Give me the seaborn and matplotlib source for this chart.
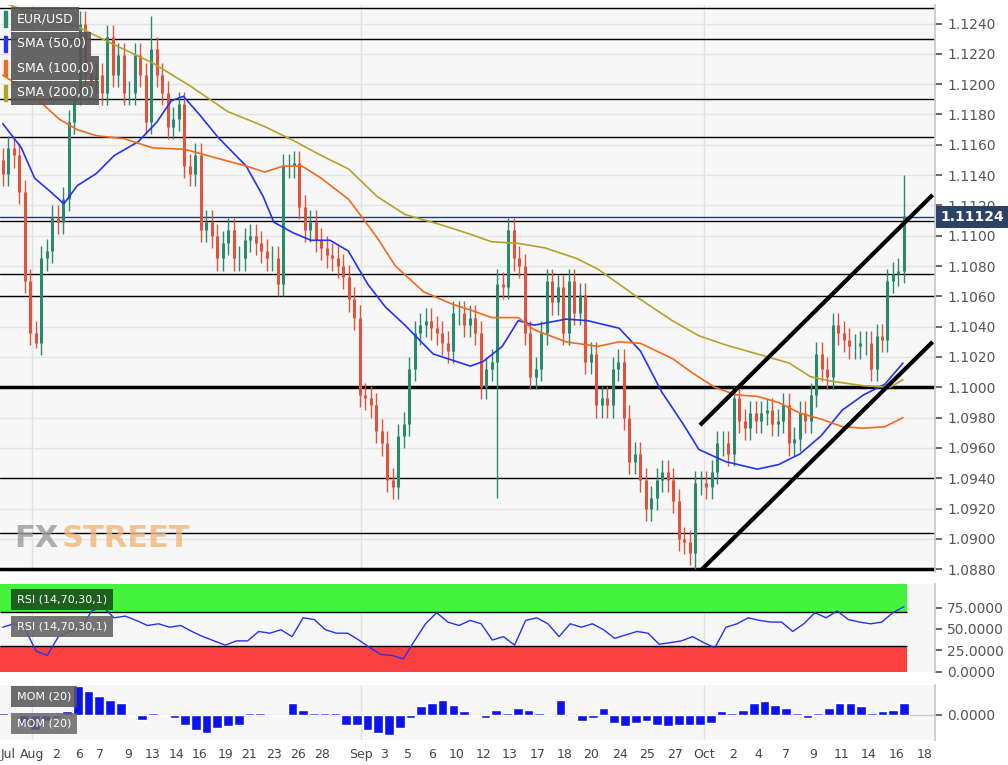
import numpy as np
import pandas as pd
import matplotlib
matplotlib.use("Agg")
import matplotlib.pyplot as plt
import seaborn as sns

# hourly-ish closes
closes = [1.1141, 1.1158, 1.1153, 1.1129, 1.1070, 1.1036, 1.1029, 1.1085, 1.1090, 1.1112,
          1.1109, 1.1124, 1.1175, 1.1194, 1.1240, 1.1206, 1.1202, 1.1206, 1.1194, 1.1231,
          1.1206, 1.1219, 1.1194, 1.1194, 1.1219, 1.1206, 1.1175, 1.1223, 1.1206, 1.1194,
          1.1172, 1.1177, 1.1187, 1.1146, 1.1141, 1.1153, 1.1104, 1.1109, 1.1100, 1.1085,
          1.1095, 1.1104, 1.1085, 1.1085, 1.1097, 1.1100, 1.1095, 1.1090, 1.1085, 1.1085,
          1.1068, 1.1146, 1.1146, 1.1148, 1.1119, 1.1104, 1.1109, 1.1097, 1.1092, 1.1087,
          1.1085, 1.1080, 1.1073, 1.1058, 1.1046, 1.0995, 1.0993, 1.0988, 1.0971, 1.0963,
          1.0939, 1.0934, 1.0968, 1.0976, 1.1012, 1.1036, 1.1041, 1.1044, 1.1039, 1.1036,
          1.1029, 1.1024, 1.1049, 1.1049, 1.1041, 1.1046, 1.1036, 1.1000,
          1.1012, 1.1017, 1.1068, 1.1066, 1.1104, 1.1085, 1.1080, 1.1036, 1.1007, 1.1012,
          1.1036, 1.1070, 1.1056, 1.1066, 1.1036, 1.1070, 1.1049, 1.1061, 1.1017, 1.1022,
          1.0988, 1.0993, 1.0988, 1.1012, 1.1017, 1.0980, 1.0951, 1.0956, 1.0939, 1.0920,
          1.0927, 1.0939, 1.0944, 1.0939, 1.0925, 1.0900, 1.0898, 1.0891, 1.0937, 1.0937,
          1.0934, 1.0944, 1.0963, 1.0963, 1.0956, 1.0993, 1.0978, 1.0973, 1.0983, 1.0978,
          1.0983, 1.0985, 1.0976, 1.0978, 1.0988, 1.0963, 1.0966, 1.0983, 1.0978, 1.0995,
          1.1022, 1.1012, 1.1007, 1.1041, 1.1036, 1.1031, 1.1027, 1.1027, 1.1029, 1.1029,
          1.1012, 1.1034, 1.1031, 1.1070, 1.1075, 1.1077, 1.1113]
first_open = 1.1150
wick = 0.0008
special_high = {len(closes) - 1: 1.1140, 90: 1.1078, 27: 1.1245}
special_low = {90: 1.0927, 126: 1.0880, 6: 1.1026}

# positions below are on a 0..169.6 chart scale, rescaled to candle index later
sma50_x = [0, 3.5, 6, 9, 11.5, 14, 17.6, 21, 25.5, 29, 31.7, 34, 37, 40.5, 45.8, 49, 51, 54.6, 58,
           61.6, 65, 68.7, 72, 75.7, 81, 88, 90.4, 94, 97, 100, 106, 110, 116, 120, 124, 128, 131,
           136, 142, 146, 150, 154, 158, 162, 166, 169.4]
sma50 = [1.1174, 1.1158, 1.1138, 1.1129, 1.1121, 1.1133, 1.1141, 1.1153, 1.1162, 1.1175, 1.1189,
         1.1192, 1.1180, 1.1165, 1.1146, 1.1126, 1.1109, 1.1102, 1.1097, 1.1097, 1.1090, 1.1068,
         1.1053, 1.1041, 1.1022, 1.1014, 1.1017, 1.1027, 1.1044, 1.1041, 1.1045, 1.1044, 1.1039,
         1.1024, 1.0997, 1.0976, 1.0959, 1.0951, 1.0946, 1.0949, 1.0956, 1.0968, 1.0985, 1.0995,
         1.1002, 1.1016]
sma100_x = [0, 5.3, 10.6, 14, 17.6, 22.9, 28.2, 34.3, 40.5, 45.8, 49.3, 52.8, 56.3, 59.9, 65.1, 70.4,
            73.9, 79.2, 84.5, 88, 92, 97, 100, 106, 112, 116, 120, 126, 130, 134, 138, 142, 146,
            150, 154, 158, 162, 166, 169.4]
sma100 = [1.1206, 1.1194, 1.1177, 1.1170, 1.1166, 1.1164, 1.1158, 1.1157, 1.1151, 1.1146, 1.1142,
          1.1146, 1.1146, 1.1138, 1.1124, 1.1099, 1.1080, 1.1063, 1.1055, 1.1051, 1.1046, 1.1046,
          1.1038, 1.1030, 1.1027, 1.1030, 1.1029, 1.1019, 1.1009, 1.1000, 1.0995, 1.0994, 1.0990,
          1.0983, 1.0979, 1.0974, 1.0973, 1.0974, 1.0980]
sma200_x = [0, 7, 14, 21, 28.2, 35.2, 42.3, 49.3, 54.6, 59.9, 65.1, 70.4, 75.7, 82.7, 88, 92, 97,
            102, 108, 112, 116, 120, 126, 131, 136, 142, 148, 152, 156, 162, 167, 169.4]
sma200 = [1.1254, 1.1245, 1.1238, 1.1226, 1.1214, 1.1199, 1.1182, 1.1172, 1.1163, 1.1153, 1.1144,
          1.1126, 1.1114, 1.1107, 1.1101, 1.1096, 1.1095, 1.1092, 1.1085, 1.1078, 1.1068, 1.1058,
          1.1044, 1.1034, 1.1028, 1.1022, 1.1016, 1.1007, 1.1004, 1.1001, 1.1000, 1.1005]

levels_thin = [1.1250, 1.1230, 1.1190, 1.1165, 1.1110, 1.1075, 1.1060, 1.0940, 1.0904]
levels_thick = [1.1000, 1.0880]
last_price = 1.11124
upper_trend_x, upper_trend_y = [131.2, 175], [1.0975, 1.1127]
lower_trend_x, lower_trend_y = [131.6, 175], [1.0880, 1.1030]

rsi = [52, 56, 50, 24, 19, 41, 47, 50, 71, 76, 63, 65, 60, 54, 56, 52, 54, 47, 41, 36, 31, 36, 36,
       47, 45, 49, 41, 63, 61, 49, 45, 45, 37, 28, 20, 19, 15, 36, 56, 69, 58, 54, 60, 56, 37, 41,
       31, 60, 63, 56, 41, 56, 52, 56, 49, 39, 43, 47, 45, 32, 34, 36, 41, 34, 28, 52, 56, 63, 60,
       58, 58, 47, 56, 69, 63, 71, 61, 58, 56, 58, 69, 76]
mom = [5, 0, -30, -45, -20, -10, 10, 85, 70, 55, 45, 35, -5, -15, 5, -5, -10, -30, -45, -55, -40,
       -35, -30, 5, 5, -5, -5, 35, 15, 5, 5, 5, -30, -30, -45, -55, -60, -40, -10, 25, 35, 45, 30,
       10, -5, -10, 15, 5, 20, 15, 5, 0, 45, 0, -20, -10, 20, -25, -35, -25, -20, -30, -35, -30,
       -30, -30, -25, 10, 5, 15, 35, 40, 30, 20, 5, -10, 5, 20, 35, 35, 25, 5, 10, 15, 35]

tick_pos = [1, 5.5, 10, 14.4, 18.3, 23.6, 28.2, 32.7, 37.1, 41.9, 46.3, 51, 55.5, 60, 67.4, 71.8,
            76.2, 80.8, 85.4, 90.4, 95.4, 100.6, 105.8, 110.8, 116.2, 121.2, 126.6, 132, 137.4,
            142.2, 147.4, 152.6, 157.8, 163, 168.2, 173.4]
tick_labels = ["Jul", "Aug", "2", "6", "7", "9", "13", "14", "16", "19", "21", "23", "26", "28",
               "Sep", "3", "5", "6", "10", "12", "13", "17", "18", "20", "24", "25", "27", "Oct",
               "2", "4", "7", "9", "11", "14", "16", "18"]
month_lines = [5.5, 67.4, 132]

sns.set_theme(style="white")
plt.rcParams["font.family"] = ["DejaVu Sans"]

UP, DOWN = "#2b8a6e", "#e2533e"
BG = "#f7f7f7"
n = len(closes)
S = (n - 1) / 169.6          # chart scale -> candle index
XMAX = 175 * S + 0.5


def sc(xs):
    return [x * S for x in xs]


fig = plt.figure(figsize=(10.08, 7.65), dpi=100)
ax = fig.add_axes([0, 0.252, 0.928, 0.741])
ax_rsi = fig.add_axes([0, 0.122, 0.928, 0.114])
ax_mom = fig.add_axes([0, 0.033, 0.928, 0.072])

df = pd.DataFrame({"close": closes})
df["open"] = df["close"].shift(1).fillna(first_open)
df["high"] = df[["open", "close"]].max(axis=1) + wick
df["low"] = df[["open", "close"]].min(axis=1) - wick
for i, v in special_high.items():
    df.loc[i, "high"] = v
for i, v in special_low.items():
    df.loc[i, "low"] = v
df["col"] = np.where(df["close"] >= df["open"], UP, DOWN)

for a in (ax, ax_rsi, ax_mom):
    a.set_facecolor(BG)
    a.set_xlim(-0.5, XMAX)
    for m in sc(month_lines):
        a.axvline(m, color="#e2e2e6", lw=1, zorder=0)
    for s in a.spines.values():
        s.set_visible(False)
    a.spines["right"].set_visible(True)
    a.spines["right"].set_color("#c8c8d0")
    a.yaxis.tick_right()
    a.tick_params(axis="y", colors="#555555", labelsize=10, length=5, direction="out", right=True)
    a.set_xticks([])

# main panel
ax.set_ylim(1.0878, 1.1252)
yt = np.arange(1.088, 1.1241, 0.002)
ax.set_yticks(yt)
ax.set_yticklabels([f"{v:.4f}" for v in yt])
for v in yt:
    ax.axhline(v, color="#e4e4e4", lw=1, zorder=0)
for v in levels_thin:
    ax.axhline(v, color="black", lw=1, zorder=1)
for v in levels_thick:
    ax.axhline(v, color="black", lw=2.5, zorder=1)
ax.axhline(last_price, color="#1f3a6b", lw=1, zorder=1)

ax.vlines(df.index, df["low"], df["high"], colors=df["col"], lw=1, zorder=3)
ax.vlines(df.index, df["open"], df["close"], colors=df["col"], lw=2.2, zorder=3)

sns.lineplot(x=sc(sma50_x), y=sma50, ax=ax, color="#2433f0", lw=1.2, zorder=4)
sns.lineplot(x=sc(sma100_x), y=sma100, ax=ax, color="#f26a1b", lw=1.2, zorder=4)
sns.lineplot(x=sc(sma200_x), y=sma200, ax=ax, color="#b5a22a", lw=1.2, zorder=4)
ax.plot(sc(upper_trend_x), upper_trend_y, color="black", lw=3, zorder=5, solid_capstyle="butt")
ax.plot(sc(lower_trend_x), lower_trend_y, color="black", lw=3, zorder=5, solid_capstyle="butt")

ax.text(1.005, last_price, f"{last_price:.5f}", transform=ax.get_yaxis_transform(),
        va="center", ha="left", color="white", fontsize=10, fontweight="bold",
        bbox=dict(boxstyle="square,pad=0.3", fc="#2b4166", ec="none"), zorder=6, clip_on=False)

legend = [("EUR/USD", UP), ("SMA (50,0)", "#2433f0"), ("SMA (100,0)", "#f26a1b"),
          ("SMA (200,0)", "#b5a22a")]
for k, (lab, c) in enumerate(legend):
    y = 1 - (14 + k * 24.5) / 567
    ax.text(0.018, y, lab, transform=ax.transAxes, va="center", ha="left", color="white",
            fontsize=9, bbox=dict(boxstyle="square,pad=0.45", fc="#555555", ec="none", alpha=0.9),
            zorder=7)
    ax.add_patch(plt.Rectangle((0.004, y - 0.014), 0.004, 0.028, transform=ax.transAxes,
                               color=c, zorder=8))
ax.text(0.015, 0.06, "FX", transform=ax.transAxes, fontsize=22, fontweight="bold",
        color="#9a9a9a", alpha=0.8, va="center")
ax.text(0.066, 0.06, "STREET", transform=ax.transAxes, fontsize=22, fontweight="bold",
        color="#f2b77a", alpha=0.8, va="center")

# RSI panel
ax_rsi.set_ylim(0, 102)
ax_rsi.set_yticks([0, 25, 50, 75])
ax_rsi.set_yticklabels(["0.0000", "25.0000", "50.0000", "75.0000"])
band_end = (n - 1 + 0.5)
ax_rsi.fill_between([-0.5, band_end], 70, 102, color="#44f43c", zorder=1, lw=0)
ax_rsi.fill_between([-0.5, band_end], 0, 30, color="#fb4040", zorder=1, lw=0)
ax_rsi.hlines([70, 30], -0.5, band_end, color="black", lw=1, zorder=2)
rsi_x = np.linspace(0, n - 1, len(rsi))
sns.lineplot(x=rsi_x, y=rsi, ax=ax_rsi, color="#2433f0", lw=1, zorder=3)
ax_rsi.text(0.018, 0.83, "RSI (14,70,30,1)", transform=ax_rsi.transAxes, color="white", fontsize=8,
            va="center", bbox=dict(boxstyle="square,pad=0.5", fc="#1d5f1d", ec="none"), zorder=5)
ax_rsi.text(0.018, 0.52, "RSI (14,70,30,1)", transform=ax_rsi.transAxes, color="white", fontsize=8,
            va="center", bbox=dict(boxstyle="square,pad=0.5", fc="#666666", ec="none", alpha=0.9),
            zorder=5)

# MOM panel
ax_mom.set_ylim(-75, 90)
ax_mom.set_yticks([0])
ax_mom.set_yticklabels(["0.0000"])
ax_mom.axhline(0, color="#cccccc", lw=1, zorder=1)
mom_x = np.linspace(0, n - 1, len(mom))
ax_mom.bar(mom_x, mom, width=(mom_x[1] - mom_x[0]) * 0.9, color="#0a12f0", zorder=3)
ax_mom.text(0.018, 0.78, "MOM (20)", transform=ax_mom.transAxes, color="white", fontsize=8,
            va="center", bbox=dict(boxstyle="square,pad=0.5", fc="#555555", ec="none", alpha=0.85),
            zorder=5)
ax_mom.text(0.018, 0.3, "MOM (20)", transform=ax_mom.transAxes, color="white", fontsize=8,
            va="center", bbox=dict(boxstyle="square,pad=0.5", fc="#666666", ec="none", alpha=0.85),
            zorder=5)
ax_mom.set_xticks(sc(tick_pos))
ax_mom.set_xticklabels(tick_labels, fontsize=9, color="#444444")
ax_mom.tick_params(axis="x", length=0, pad=6)

fig.savefig("out.png", dpi=100)
